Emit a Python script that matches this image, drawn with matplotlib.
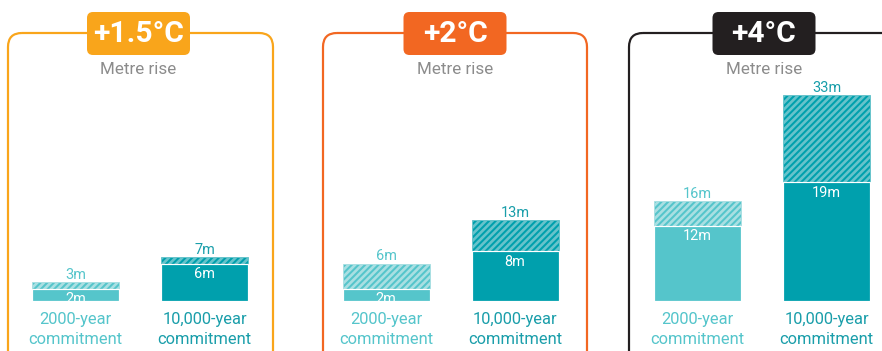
import matplotlib.pyplot as plt
from matplotlib.patches import FancyBboxPatch

W, H, DPI = 882, 351, 80


def pt(px):
    # pixel size -> points at this dpi
    return px * 72 / DPI


scenarios = ["+1.5°C", "+2°C", "+4°C"]
commitments = ["2000-year\ncommitment", "10,000-year\ncommitment"]
# solid part (lower estimate) and hatched top (upper estimate), metres
low = [[2, 6], [2, 8], [12, 19]]
high = [[3, 7], [6, 13], [16, 33]]

frame_colors = ["#F9A51B", "#F26722", "#231F20"]
light, dark = "#55C5CB", "#00A0AD"
stripe_light, stripe_dark = "#A9DFE2", "#66C3CB"
bar_colors = [light, dark]
stripe_colors = [stripe_light, stripe_dark]
label_colors = ["#55C5CB", "#1A9EAA"]

# layout in pixels (from top-left)
box_left = [8, 323, 629]
box_right = [273, 587, 897]
badge_cx = [138.5, 455, 764]
bar_cx = [140, 450.5, 762]
bar_gap = 129
baseline = 301
px_per_m = 6.25

plt.rcParams["font.family"] = ["Roboto", "DejaVu Sans"]
plt.rcParams["hatch.linewidth"] = 2.4

fig = plt.figure(figsize=(W / DPI, H / DPI), dpi=DPI)

# decoration layer in pixel coordinates
deco = fig.add_axes([0, 0, 1, 1])
deco.set_xlim(0, W)
deco.set_ylim(H, 0)
deco.axis("off")

for i, name in enumerate(scenarios):
    c = frame_colors[i]
    deco.add_patch(FancyBboxPatch((box_left[i], 33), box_right[i] - box_left[i], 400,
                                  boxstyle="round,pad=0,rounding_size=14",
                                  fc="none", ec=c, lw=pt(2.2)))
    deco.add_patch(FancyBboxPatch((badge_cx[i] - 51.5, 12), 103, 43,
                                  boxstyle="round,pad=0,rounding_size=6",
                                  fc=c, ec="none", zorder=3))
    deco.text(badge_cx[i], 34.5, name, ha="center", va="center", color="white",
              fontsize=pt(30), fontweight="bold", zorder=4)
    deco.text(badge_cx[i], 69, "Metre rise", ha="center", va="center",
              color="#8C8C8C", fontsize=pt(17))

# bar panels
for i in range(3):
    left = (bar_cx[i] - bar_gap) / W
    width = 2 * bar_gap / W
    ax = fig.add_axes([left, (H - baseline) / H, width, baseline / H])
    ax.patch.set_alpha(0)
    ax.set_xlim(-0.5, 1.5)
    ax.set_ylim(0, baseline / px_per_m)
    for s in ax.spines.values():
        s.set_visible(False)
    ax.set_yticks([])

    x = [0, 1]
    bw = 87 / bar_gap
    ax.bar(x, low[i], width=bw, color=bar_colors, edgecolor="white", lw=pt(1.2), zorder=2)
    for j in x:
        ax.bar(j, high[i][j] - low[i][j], bottom=low[i][j], width=bw,
               color=bar_colors[j], edgecolor=stripe_colors[j], hatch="////",
               lw=pt(0.8), zorder=1)
        ax.annotate(f"{high[i][j]}m", (j, high[i][j]), xytext=(0, pt(3)),
                    textcoords="offset points", ha="center", va="baseline",
                    color=label_colors[j], fontsize=pt(14.5))
        ax.annotate(f"{low[i][j]}m", (j, low[i][j]), xytext=(0, -pt(3.5)),
                    textcoords="offset points", ha="center", va="top",
                    color="white", fontsize=pt(14.5), zorder=3)

    ax.set_xticks(x)
    ax.set_xticklabels(commitments, fontsize=pt(16.5), linespacing=1.4)
    ax.tick_params(axis="x", length=0, pad=pt(11))
    for lab, col in zip(ax.get_xticklabels(), label_colors):
        lab.set_color(col)

fig.savefig("out.png", dpi=DPI)
